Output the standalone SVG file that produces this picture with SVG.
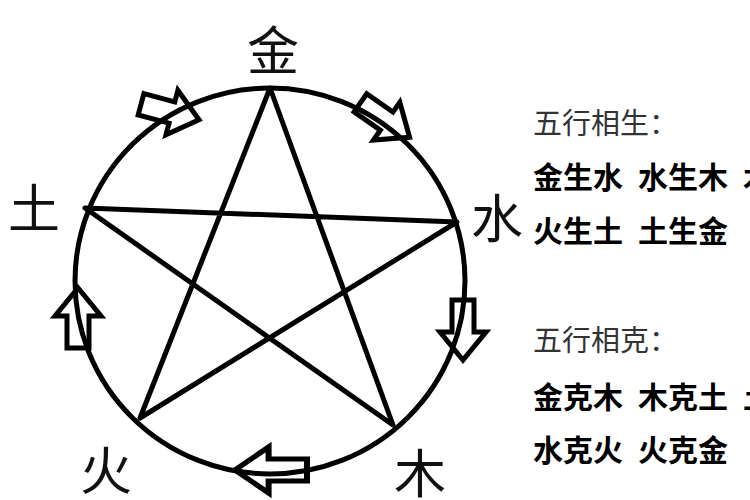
<svg xmlns="http://www.w3.org/2000/svg" width="750" height="500" viewBox="0 0 750 500">
<style>
.ln{fill:none;stroke:#000;stroke-width:5;stroke-linejoin:round;stroke-linecap:round}
.ar{fill:none;stroke:#000;stroke-width:5;stroke-linejoin:miter}
.lb{font-family:"Noto Sans CJK SC","Noto Sans",sans-serif;font-size:52px;fill:#111;text-anchor:middle}
.hd{font-family:"Noto Sans CJK SC","Noto Sans",sans-serif;font-size:29px;fill:#333}
.bd{font-family:"Noto Sans CJK SC","Noto Sans",sans-serif;font-size:30px;font-weight:bold;fill:#000}
</style>
<defs>
<path id="arrow" d="M-30,-11 H2 V-23 L30,0 L2,23 V11 H-30 Z"/>
</defs>
<rect width="750" height="500" fill="#fff"/>
<g id="connectors">
<ellipse class="ln" cx="270" cy="281" rx="195" ry="193"/>
<polygon class="ln" points="270,88 393,425 85,208 457,222 140,418"/>
<use href="#arrow" class="ar" transform="translate(170,112) rotate(15)"/>
<use href="#arrow" class="ar" transform="translate(385,120) rotate(35)"/>
<use href="#arrow" class="ar" transform="translate(463,330) rotate(90)"/>
<use href="#arrow" class="ar" transform="translate(271,470) rotate(180) scale(1.2,1)"/>
<use href="#arrow" class="ar" transform="translate(78,318) rotate(-90)"/>
</g>
<g id="node-jin"><text class="lb" x="273" y="70">金</text></g>
<g id="node-tu"><text class="lb" x="34" y="228">土</text></g>
<g id="node-shui"><text class="lb" x="497" y="238">水</text></g>
<g id="node-huo"><text class="lb" x="106" y="490">火</text></g>
<g id="node-mu"><text class="lb" x="420" y="493">木</text></g>
<g id="legend-sheng">
<text class="hd" x="533" y="134">五行相生：</text>
<text class="bd" x="533" y="188">金生水</text>
<text class="bd" x="638" y="188">水生木</text>
<text class="bd" x="743" y="188">木生火</text>
<text class="bd" x="533" y="242">火生土</text>
<text class="bd" x="638" y="242">土生金</text>
</g>
<g id="legend-ke">
<text class="hd" x="533" y="351">五行相克：</text>
<text class="bd" x="533" y="408">金克木</text>
<text class="bd" x="638" y="408">木克土</text>
<text class="bd" x="743" y="408">土克水</text>
<text class="bd" x="533" y="461">水克火</text>
<text class="bd" x="638" y="461">火克金</text>
</g>
</svg>
